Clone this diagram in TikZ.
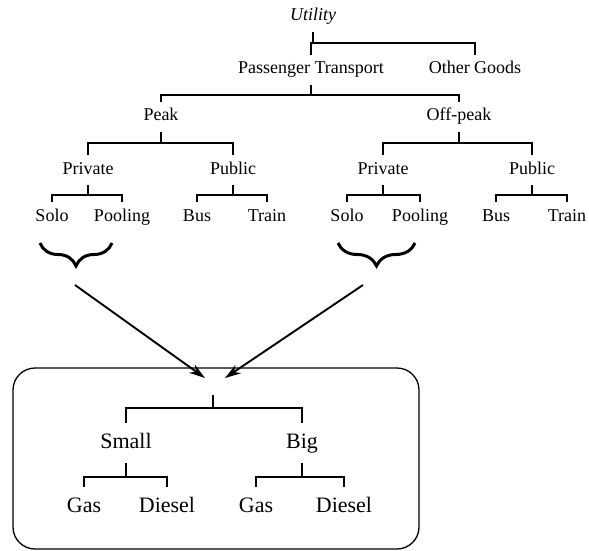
\documentclass[tikz,border=0pt]{standalone}
\usepackage{fontspec}
\setmainfont{Liberation Serif}
\usetikzlibrary{arrows.meta,decorations.pathreplacing}
\newcommand\forktwo[4]{%
  \draw[tree] (#1.south) -- (#1.south |- 0,#4);
  \draw[tree] (#2.north) |- (#3.north |- 0,#4) -- (#3.north);}
\begin{document}
\begin{tikzpicture}[x=1pt,y=-1pt,
  lab/.style={inner sep=0pt, minimum height=30pt, text height=12pt, text depth=4pt, font=\fontsize{18}{20}\selectfont},
  lowlab/.style={inner sep=0pt, minimum height=40pt, text height=15pt, text depth=5pt, font=\fontsize{22}{24}\selectfont},
  tree/.style={line width=1.2pt},
  bracestyle/.style={decorate, decoration={brace, mirror, amplitude=23pt, aspect=0.5}, line width=3pt},
  arr/.style={line width=1.9pt, -{Stealth[length=16pt, width=10pt]}},
  boxstyle/.style={line width=1.3pt, rounded corners=22pt}]
\useasboundingbox (0,0) rectangle (589,551);

% upper tree
\node[lab, font=\fontsize{18}{20}\selectfont\itshape] (util) at (313,17) {Utility};
\node[lab] (pt) at (311,70) {Passenger Transport};
\node[lab] (og) at (475,70) {Other Goods};
\node[lab] (peak) at (161,117) {Peak};
\node[lab] (off) at (459,117) {Off-peak};
\node[lab] (pr1) at (88,170) {Private};
\node[lab] (pu1) at (233,170) {Public};
\node[lab] (pr2) at (383,170) {Private};
\node[lab] (pu2) at (532,170) {Public};
\node[lab] (s1) at (52,217) {Solo};
\node[lab] (p1) at (122,217) {Pooling};
\node[lab] (b1) at (197,217) {Bus};
\node[lab] (t1) at (267,217) {Train};
\node[lab] (s2) at (347,217) {Solo};
\node[lab] (p2) at (420,217) {Pooling};
\node[lab] (b2) at (496,217) {Bus};
\node[lab] (t2) at (567,217) {Train};

\forktwo{util}{pt}{og}{43}
\forktwo{pt}{peak}{off}{95}
\forktwo{peak}{pr1}{pu1}{143}
\forktwo{off}{pr2}{pu2}{143}
\forktwo{pr1}{s1}{p1}{195}
\forktwo{pu1}{b1}{t1}{195}
\forktwo{pr2}{s2}{p2}{195}
\forktwo{pu2}{b2}{t2}{195}

% braces
\coordinate (brL1) at (40,243);
\coordinate (brL2) at (112,243);
\coordinate (brR1) at (338,243);
\coordinate (brR2) at (415,243);
\draw[bracestyle] (brL1) -- (brL2);
\draw[bracestyle] (brR1) -- (brR2);

% arrows
\coordinate (la) at (75,285);
\coordinate (lt) at (205,378);
\coordinate (ra) at (363,285);
\coordinate (rt) at (225,378);
\draw[arr] (la) -- (lt);
\draw[arr] (ra) -- (rt);

% lower box
\draw[boxstyle] (13,368) rectangle (419,549);
\coordinate (root) at (213,395);
\node[lowlab] (small) at (126,443) {Small};
\node[lowlab] (bigc) at (302,443) {Big};
\node[lowlab] (g1) at (84,507) {Gas};
\node[lowlab] (d1) at (167,507) {Diesel};
\node[lowlab] (g2) at (256,507) {Gas};
\node[lowlab] (d2) at (344,507) {Diesel};
\draw[tree] (root) -- (root |- 0,408);
\draw[tree] (small.north) |- (bigc.north |- 0,408) -- (bigc.north);
\forktwo{small}{g1}{d1}{477}
\forktwo{bigc}{g2}{d2}{477}
\end{tikzpicture}
\end{document}
